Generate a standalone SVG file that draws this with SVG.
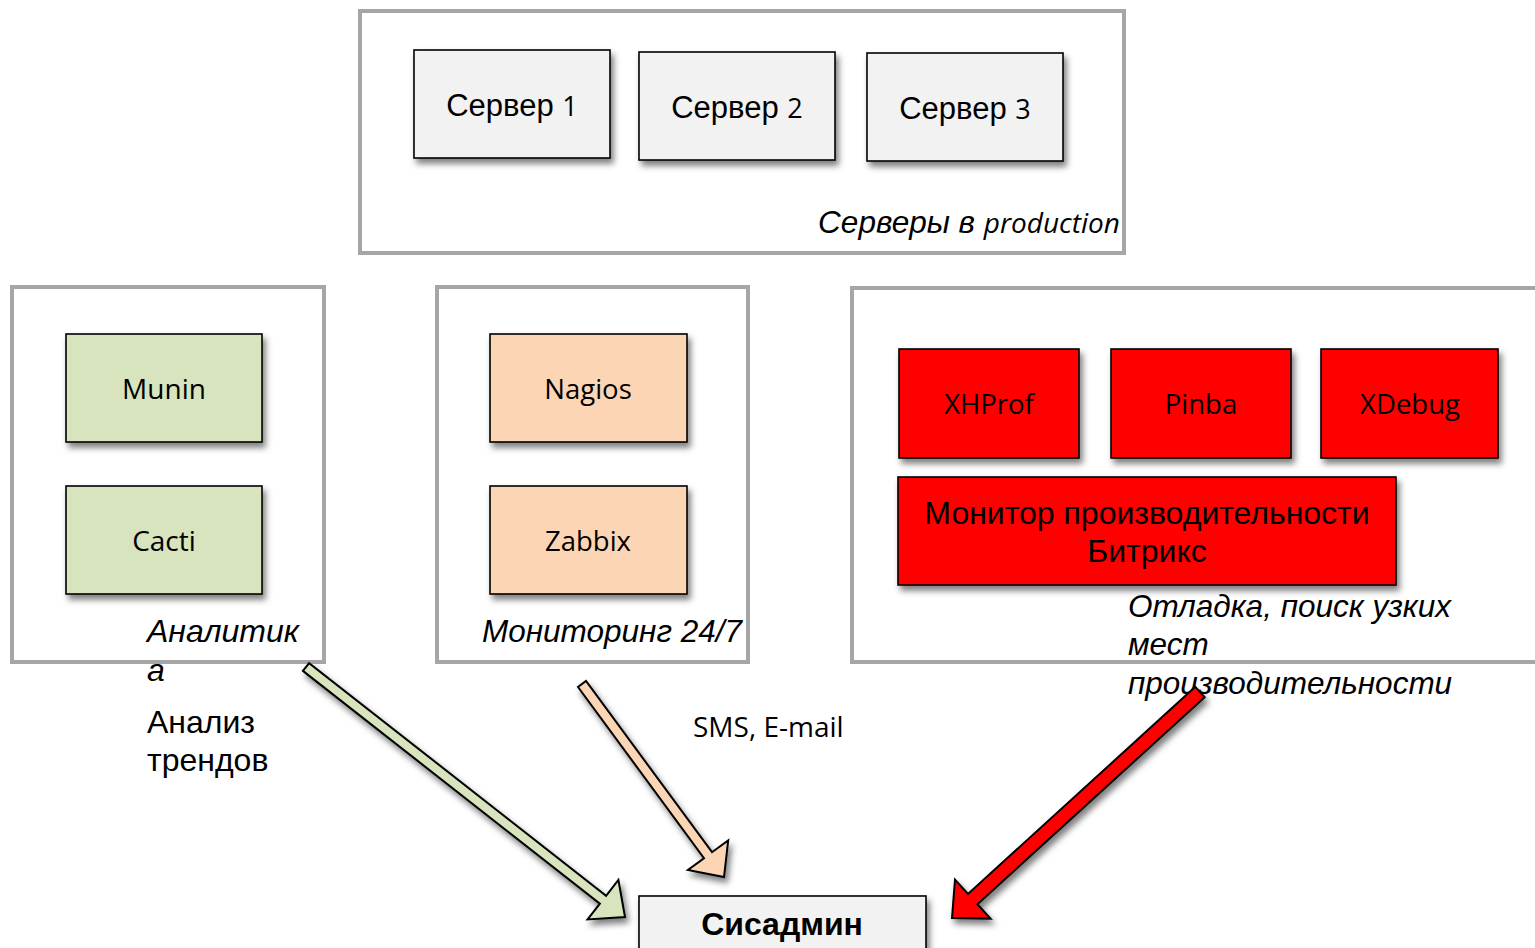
<svg xmlns="http://www.w3.org/2000/svg" width="1535" height="948" viewBox="0 0 1535 948">
<defs>
<filter id="sh" x="-20%" y="-20%" width="150%" height="160%">
<feDropShadow dx="3" dy="5" stdDeviation="3" flood-color="#000" flood-opacity="0.5"/>
</filter>
<style>
.cont{fill:#fff;stroke:#a6a6a6;stroke-width:4}
.box{stroke:#000;stroke-width:1.6;filter:url(#sh)}
.srv{fill:#f2f2f2}
.grn{fill:#d7e4bd}
.pch{fill:#fcd5b5}
.red{fill:#ff0000}
.ar{font-family:"Liberation Sans",Arial,sans-serif;fill:#000}
.cal{font-family:"Open Sans","Noto Sans",sans-serif;fill:#000}
.it{font-style:italic}
.arrow{stroke:#000;stroke-width:2;stroke-linejoin:miter;filter:url(#sh)}
</style>
</defs>
<rect width="1535" height="948" fill="#fff"/>

<g id="production">
<rect class="cont" x="360" y="11" width="764" height="242"/>
<text class="ar it" x="1120" y="233" font-size="31.5" text-anchor="end">Серверы в <tspan class="cal" font-size="28">production</tspan></text>
</g>
<g id="server1">
<rect class="box srv" x="414" y="50" width="196" height="108"/>
<text class="ar" x="512" y="116" font-size="31" text-anchor="middle">Сервер <tspan class="cal" font-size="27">1</tspan></text>
</g>
<g id="server2">
<rect class="box srv" x="639" y="52" width="196" height="108"/>
<text class="ar" x="737" y="118" font-size="31" text-anchor="middle">Сервер <tspan class="cal" font-size="27">2</tspan></text>
</g>
<g id="server3">
<rect class="box srv" x="867" y="53" width="196" height="108"/>
<text class="ar" x="965" y="119" font-size="31" text-anchor="middle">Сервер <tspan class="cal" font-size="27">3</tspan></text>
</g>

<g id="analytics">
<rect class="cont" x="12" y="287" width="312" height="375"/>
<text class="ar it" x="147" y="642" font-size="32">Аналитик</text>
<text class="ar it" x="147" y="681" font-size="32">а</text>
<text class="ar" x="147" y="733" font-size="32">Анализ</text>
<text class="ar" x="147" y="771" font-size="32">трендов</text>
</g>
<g id="munin">
<rect class="box grn" x="66" y="334" width="196" height="108"/>
<text class="cal" x="164" y="399" font-size="28" text-anchor="middle">Munin</text>
</g>
<g id="cacti">
<rect class="box grn" x="66" y="486" width="196" height="108"/>
<text class="cal" x="164" y="551" font-size="28" text-anchor="middle">Cacti</text>
</g>

<g id="monitoring">
<rect class="cont" x="437" y="287" width="311" height="375"/>
<text class="ar it" x="482" y="642" font-size="31.5">Мониторинг 24/7</text>
</g>
<g id="nagios">
<rect class="box pch" x="490" y="334" width="197" height="108"/>
<text class="cal" x="588" y="399" font-size="27.5" text-anchor="middle">Nagios</text>
</g>
<g id="zabbix">
<rect class="box pch" x="490" y="486" width="197" height="108"/>
<text class="cal" x="588" y="551" font-size="27.5" text-anchor="middle">Zabbix</text>
</g>

<g id="debug">
<rect class="cont" x="852" y="288" width="700" height="374"/>
<text class="ar it" x="1128" y="617" font-size="31.5">Отладка, поиск узких</text>
<text class="ar it" x="1128" y="655" font-size="31.5">мест</text>
<text class="ar it" x="1128" y="694" font-size="31.5">производительности</text>
</g>
<g id="xhprof">
<rect class="box red" x="899" y="349" width="180" height="109"/>
<text class="cal" x="989" y="414" font-size="27.5" text-anchor="middle">XHProf</text>
</g>
<g id="pinba">
<rect class="box red" x="1111" y="349" width="180" height="109"/>
<text class="cal" x="1201" y="414" font-size="27.5" text-anchor="middle">Pinba</text>
</g>
<g id="xdebug">
<rect class="box red" x="1321" y="349" width="177" height="109"/>
<text class="cal" x="1410" y="414" font-size="27.5" text-anchor="middle">XDebug</text>
</g>
<g id="bitrix">
<rect class="box red" x="898" y="477" width="498" height="108"/>
<text class="ar" x="1147" y="524" font-size="32" text-anchor="middle">Монитор производительности</text>
<text class="ar" x="1147" y="562" font-size="32" text-anchor="middle">Битрикс</text>
</g>

<g id="sysadmin">
<rect class="box srv" x="639" y="896" width="287" height="70"/>
<text class="ar" x="782" y="935" font-size="32" font-weight="bold" text-anchor="middle">Сисадмин</text>
</g>

<g id="connectors">
<polygon class="arrow" fill="#d7e4bd" points="302.9,670.9 599.9,903.6 587.6,919.4 625,917 618.4,880 606.1,895.8 309.1,663.1"/>
<polygon class="arrow" fill="#fcd5b5" points="578,687 704,858.2 687.9,870 724,877 728.2,840.4 712,852.2 586,681"/>
<polygon class="arrow" fill="#ff0000" points="1195.3,686.8 968,893.9 955,879.6 952,918 990.6,918.6 977.4,904.3 1204.7,697.2"/>
<text class="cal" x="693" y="737" font-size="28">SMS, E-mail</text>
</g>
</svg>
